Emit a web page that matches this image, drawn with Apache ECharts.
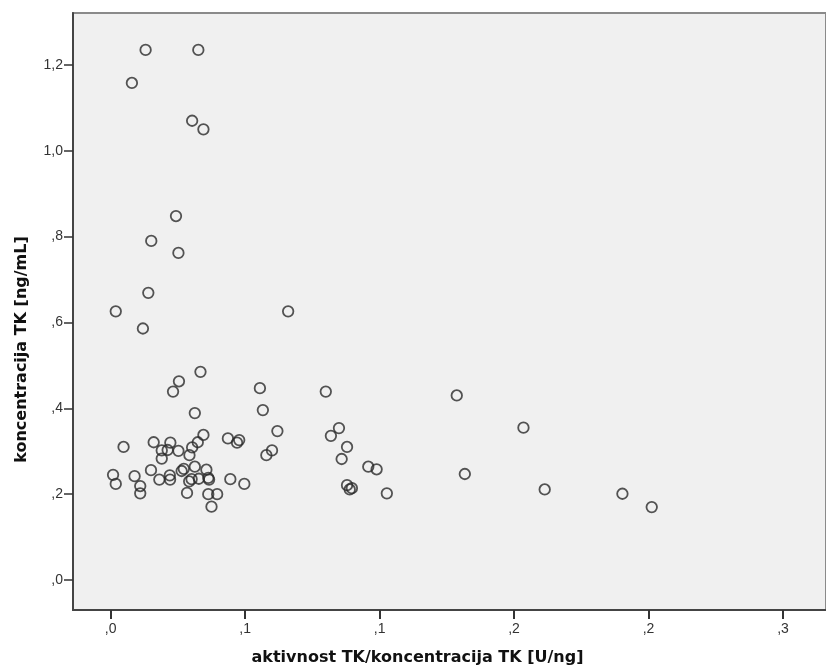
<!DOCTYPE html>
<html>
<head>
<meta charset="utf-8">
<script src="https://cdn.jsdelivr.net/npm/echarts@6/dist/echarts.min.js"></script>
<style>
  html, body { margin: 0; padding: 0; background: #fff; }
  #chart { width: 826px; height: 672px; }
</style>
</head>
<body>
<div id="chart"></div>
<script>
// activity / concentration ratio (x) and TK concentration (y)
var ratioTK = [
  0.0130, 0.0326, 0.0079, 0.0303, 0.0345, 0.0243, 0.0151, 0.0252, 0.0140, 0.0019,
  0.0660, 0.0120, 0.0334, 0.0254, 0.0232, 0.0555, 0.0566, 0.0313, 0.0800, 0.1287,
  0.1535, 0.0849, 0.0819, 0.0620, 0.0048, 0.0160, 0.0222, 0.0190, 0.0212, 0.0190,
  0.0252, 0.0293, 0.0303, 0.0324, 0.0345, 0.0436, 0.0470, 0.0478, 0.0579, 0.0600,
  0.0009, 0.0019, 0.0089, 0.0110, 0.0110, 0.0150, 0.0181, 0.0220, 0.0221, 0.0264,
  0.0272, 0.0284, 0.0292, 0.0301, 0.0313, 0.0328, 0.0356, 0.0363, 0.0366, 0.0363,
  0.0396, 0.0375, 0.0445, 0.0497, 0.0879, 0.0859, 0.0958, 0.0989, 0.1317, 0.0879,
  0.0889, 0.0897, 0.1027, 0.1614, 0.1903, 0.2012
];
var koncTK = [
  1.235, 1.235, 1.158, 1.070, 1.050, 0.848, 0.790, 0.762, 0.669, 0.626,
  0.626, 0.586, 0.485, 0.463, 0.439, 0.447, 0.396, 0.389, 0.439, 0.430,
  0.355, 0.354, 0.336, 0.347, 0.310, 0.321, 0.320, 0.302, 0.303, 0.283,
  0.301, 0.291, 0.309, 0.321, 0.338, 0.330, 0.320, 0.326, 0.291, 0.302,
  0.245, 0.224, 0.242, 0.219, 0.202, 0.256, 0.234, 0.244, 0.234, 0.254,
  0.259, 0.203, 0.230, 0.235, 0.264, 0.236, 0.257, 0.238, 0.234, 0.200,
  0.200, 0.171, 0.235, 0.224, 0.310, 0.282, 0.264, 0.258, 0.247, 0.221,
  0.211, 0.214, 0.202, 0.211, 0.201, 0.170
];

// SPSS style tick labels (one decimal, no leading zero, comma)
var xTickValues = [0, 0.05, 0.10, 0.15, 0.20, 0.25];
var xTickLabels = [',0', ',1', ',1', ',2', ',2', ',3'];
var yTickValues = [0, 0.2, 0.4, 0.6, 0.8, 1.0, 1.2];
var yTickLabels = [',0', ',2', ',4', ',6', ',8', '1,0', '1,2'];

function tickLabel(values, labels) {
  return function (v) {
    for (var i = 0; i < values.length; i++) {
      if (Math.abs(values[i] - v) < 1e-6) return labels[i];
    }
    return '';
  };
}

var points = [];
for (var i = 0; i < ratioTK.length; i++) {
  points.push([ratioTK[i], koncTK[i]]);
}

var scatterChart = echarts.init(document.getElementById('chart'));

var titleStyle = { fontFamily: 'DejaVu Sans', fontWeight: 'bold', fontSize: 16, color: '#111' };

var option_scatter = {
  animation: false,
  grid: {
    left: 73, top: 13, right: -3, bottom: 62,
    show: true,
    backgroundColor: '#f0f0f0',
    borderColor: '#8a8a8a',
    borderWidth: 2
  },
  xAxis: {
    type: 'value',
    min: -0.0140,
    max: 0.2660,
    name: 'aktivnost TK/koncentracija TK [U/ng]',
    nameLocation: 'middle',
    nameGap: 40,
    nameTextStyle: Object.assign({ padding: [0, 64, 0, 0] }, titleStyle),
    splitLine: { show: false },
    axisLine: { onZero: false, lineStyle: { color: '#444', width: 2 } },
    axisTick: { show: true, customValues: xTickValues, length: 9, lineStyle: { color: '#333', width: 2 } },
    axisLabel: {
      customValues: xTickValues,
      formatter: tickLabel(xTickValues, xTickLabels),
      fontFamily: 'Liberation Sans', fontSize: 14, color: '#333', margin: 12
    }
  },
  yAxis: {
    type: 'value',
    min: -0.0698,
    max: 1.321,
    name: 'koncentracija TK [ng/mL]',
    nameLocation: 'middle',
    nameGap: 43,
    nameTextStyle: Object.assign({ padding: [0, 76, 0, 0] }, titleStyle),
    splitLine: { show: false },
    axisLine: { onZero: false, lineStyle: { color: '#444', width: 2 } },
    axisTick: { show: true, customValues: yTickValues, length: 9, lineStyle: { color: '#333', width: 1.5 } },
    axisLabel: {
      customValues: yTickValues,
      formatter: tickLabel(yTickValues, yTickLabels),
      fontFamily: 'Liberation Sans', fontSize: 14, color: '#333', margin: 10
    }
  },
  series: [
    {
      name: 'TK',
      type: 'scatter',
      symbol: 'circle',
      symbolSize: 10.5,
      data: points,
      itemStyle: {
        color: 'rgba(0,0,0,0)',
        borderColor: '#2a2a2a',
        borderWidth: 1.8
      }
    }
  ]
};
scatterChart.setOption(option_scatter);
</script>
</body>
</html>
